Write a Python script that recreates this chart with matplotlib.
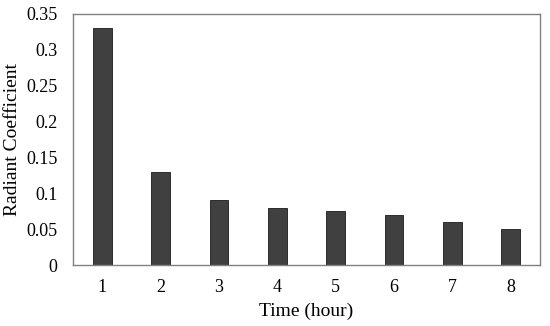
import matplotlib
matplotlib.use("Agg")
import matplotlib.pyplot as plt

hours = [1, 2, 3, 4, 5, 6, 7, 8]
radiant_coef = [0.33, 0.13, 0.09, 0.08, 0.075, 0.07, 0.06, 0.05]
y_ticks = [0, 0.05, 0.1, 0.15, 0.2, 0.25, 0.3, 0.35]
y_tick_labels = ["0", "0.05", "0.1", "0.15", "0.2", "0.25", "0.3", "0.35"]

plt.rcParams["font.family"] = ["Liberation Serif", "DejaVu Serif"]

fig = plt.figure(figsize=(5.5, 3.26), dpi=100)
ax = fig.add_axes([73 / 550, 61 / 326, 467 / 550, 251 / 326])

ax.bar(hours, radiant_coef, width=0.32, color="#404040", edgecolor="#1a1a1a", linewidth=0.6)

ax.set_xlim(0.5, 8.5)
ax.set_ylim(0, 0.35)
ax.set_xticks(hours)
ax.set_yticks(y_ticks)
ax.set_yticklabels(y_tick_labels)
ax.tick_params(axis="both", length=0, labelsize=13)
ax.tick_params(axis="x", pad=10)
ax.tick_params(axis="y", pad=11)

for s in ax.spines.values():
    s.set_color("#808080")
    s.set_linewidth(1.0)

ax.set_xlabel("Time (hour)", fontsize=14, labelpad=5)
ax.set_ylabel("Radiant Coefficient", fontsize=14, labelpad=4)

fig.savefig("out.png", dpi=100)
